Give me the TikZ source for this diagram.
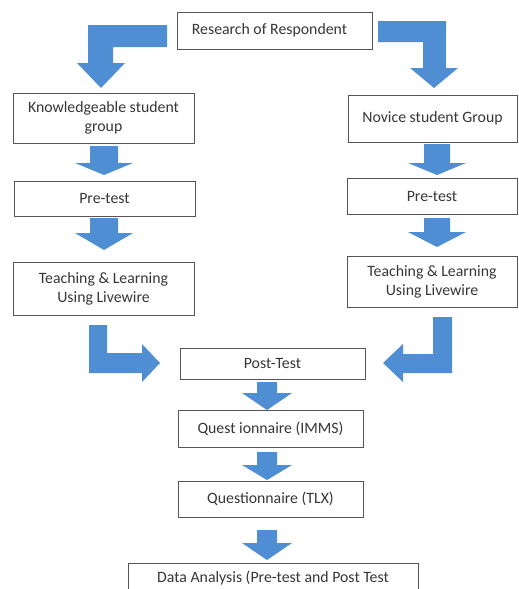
\documentclass[tikz,border=0pt]{standalone}
\usepackage{fontspec}
\setmainfont{Carlito}
\definecolor{arrowblue}{RGB}{79,142,211}
\definecolor{boxline}{RGB}{85,85,85}
\definecolor{txt}{RGB}{55,55,55}
\tikzset{
  stepbox/.style={draw=boxline, line width=0.9pt, fill=white, text=txt, inner sep=0pt, align=center, font=\fontsize{15.8}{19}\selectfont},
  blockarrow/.style={fill=arrowblue, draw=none}
}
\newcommand{\downblock}[6]{% cx, shaft half, head half, y0, y1, tip
  \fill[blockarrow] ({#1-#2},#4) -- ({#1+#2},#4) -- ({#1+#2},#5) -- ({#1+#3},#5) -- (#1,#6) -- ({#1-#3},#5) -- ({#1-#2},#5) -- cycle;}
\begin{document}
\begin{tikzpicture}[x=1pt,y=-1pt]
\clip (0,0) rectangle (519,589);
\fill[white] (0,0) rectangle (519,589);
% boxes
\node[stepbox, minimum width=195pt, minimum height=37pt] (top) at (274.5,30.5) {Research of Respondent\hspace*{10pt}};
\node[stepbox, minimum width=181pt, minimum height=50pt] (know) at (103.5,118) {Knowledgeable student\\group};
\node[stepbox, minimum width=169pt, minimum height=47pt] (nov) at (432.5,118.5) {Novice student Group};
\node[stepbox, minimum width=181pt, minimum height=35pt] (preL) at (104.5,198.5) {Pre-test};
\node[stepbox, minimum width=170pt, minimum height=36pt] (preR) at (432,196) {Pre-test};
\node[stepbox, minimum width=181pt, minimum height=53pt] (teachL) at (103.5,288.5) {Teaching \& Learning\\Using Livewire};
\node[stepbox, minimum width=170pt, minimum height=51pt] (teachR) at (432,281.5) {Teaching \& Learning\\Using Livewire};
\node[stepbox, minimum width=185pt, minimum height=31pt] (post) at (272.5,363.5) {Post-Test};
\node[stepbox, minimum width=185pt, minimum height=37pt] (imms) at (270.5,428.5) {Quest ionnaire (IMMS)};
\node[stepbox, minimum width=185pt, minimum height=36pt] (tlx) at (270.5,499) {Questionnaire (TLX)};
\node[stepbox, minimum width=290pt, minimum height=30pt, anchor=north] (data) at (273,563) {};
\node[text=txt, font=\fontsize{15.8}{19}\selectfont, inner sep=0pt] (datatxt) at (273,578) {Data Analysis (Pre-test and Post Test};
% top bent arrows
\fill[blockarrow] (167,25) -- (88,25) -- (88,63) -- (77,63) -- (101,88) -- (125,63) -- (113,63) -- (113,47) -- (167,47) -- cycle;
\fill[blockarrow] (378,21) -- (446,21) -- (446,68) -- (458,68) -- (434,88) -- (410,68) -- (423,68) -- (423,42) -- (378,42) -- cycle;
% left column arrows
\downblock{104}{14}{29}{146}{163}{175}
\downblock{104}{14}{29}{218}{233}{250}
% right column arrows
\downblock{437}{13}{29}{144}{163}{175}
\downblock{437}{13}{29}{218}{232}{247}
% bottom L arrows
\fill[blockarrow] (89,325) -- (107,325) -- (107,353) -- (142,353) -- (142,344) -- (160,363) -- (142,382) -- (142,373) -- (89,373) -- cycle;
\fill[blockarrow] (433,317) -- (452,317) -- (452,373) -- (403,373) -- (403,382) -- (383,363) -- (403,344) -- (403,354) -- (433,354) -- cycle;
% center arrows
\downblock{267}{10}{25}{382}{393}{410}
\downblock{267}{10}{25}{452}{465}{480}
\downblock{267}{10}{25}{530}{543}{560}
\end{tikzpicture}
\end{document}
